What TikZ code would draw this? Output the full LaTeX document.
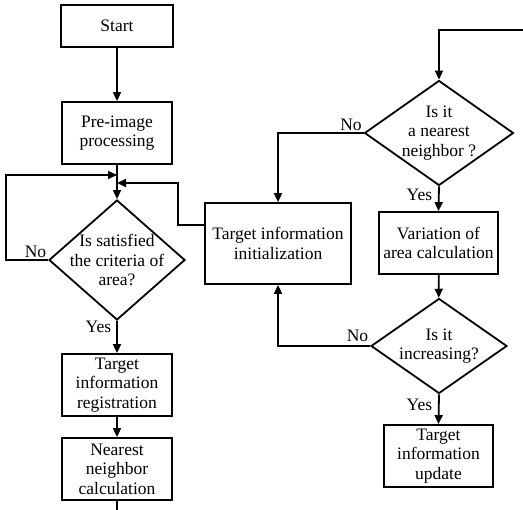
\documentclass[tikz,border=0pt]{standalone}
\usepackage{fontspec}
\setmainfont{Liberation Serif}
\usetikzlibrary{shapes.geometric,arrows.meta}
\pgfmathsetmacro{\boxW}{110}
\pgfmathsetmacro{\boxH}{62}
\tikzset{
	box/.style= {
		draw, rectangle, line width=1.8pt,
		align=center, inner sep=0,
		minimum width=\boxW pt, minimum height=\boxH pt
	},
	decision/.style= {
		draw, diamond, line width=1.8pt, inner sep=0
	},
	qtext/.style={align=center, inner sep=0},
	lbl/.style={inner sep=1pt},
	line/.style={line width=1.8pt},
	flow/.style={line width=1.8pt, -{Triangle[length=9pt,width=8pt]}}
}

\begin{document}
\begin{tikzpicture}[x=1pt, y=-1pt, font=\fontsize{17.5}{19.5}\selectfont]
\useasboundingbox (0,0) rectangle (523,510);
% left column
\node[box, minimum width=112pt, minimum height=42pt] (start) at (117,26) {Start};
\node[box] (pre) at (117,133) {Pre-image\\processing};
\node[decision, minimum width=136pt, minimum height=120pt] (q1) at (117,260) {};
\node[qtext] (q1t) at (117,260) {Is satisfied\\the criteria of\\area?};
\node[box] (reg) at (117,385) {Target\\information\\registration};
\node[box] (near) at (117,469) {Nearest\\neighbor\\calculation};
\coordinate (j1) at (117,175);
\coordinate (j2) at (117,183);
\coordinate (out1) at (117,510);

% middle
\node[box, minimum width=146pt, minimum height=81pt] (init) at (278,243.5) {Target information\\initialization};

% right column
\coordinate (in1) at (523,30);
\node[decision, minimum width=149pt, minimum height=105pt] (q2) at (439,133) {};
\node[qtext] (q2t) at (439,133) {Is it\\a nearest\\neighbor ?};
\node[box, minimum width=119pt] (var) at (438.5,243) {Variation of\\area calculation};
\node[decision, minimum width=136pt, minimum height=95pt] (q3) at (439,346) {};
\node[qtext] (q3t) at (439,346) {Is it\\increasing?};
\node[box, minimum width=109pt] (upd) at (438.5,456) {Target\\information\\update};

% connectors
\draw[flow] (start) -- (pre);
\draw[flow] (pre) -- (q1);
\draw[flow] (q1.west) node[lbl, anchor=south east] (no1) {No} -- ++(-42,0) |- (j1);
\draw[flow] ([yshift=18.5pt]init.west) -- ++(-26,0) |- (j2);
\draw[flow] (q1.south) node[lbl, anchor=north east, xshift=-4pt, yshift=2pt] (yes1) {Yes} -- (reg.north);
\draw[flow] (reg) -- (near);
\draw[line] (near) -- (out1);
\draw[flow] (in1) -| (q2.north);
\draw[flow] (q2.west) node[lbl, anchor=south east] (no2) {No} -| (init.north);
\draw[flow] (q2.south) node[lbl, anchor=north east, xshift=-5pt, yshift=-1pt] (yes2) {Yes} -- (var.north);
\draw[flow] (var) -- (q3);
\draw[flow] (q3.west) node[lbl, anchor=south east, yshift=2pt] (no3) {No} -| (init.south);
\draw[flow] (q3.south) node[lbl, anchor=north east, xshift=-5pt, yshift=-3pt] (yes3) {Yes} -- (upd.north);
\end{tikzpicture}
\end{document}
